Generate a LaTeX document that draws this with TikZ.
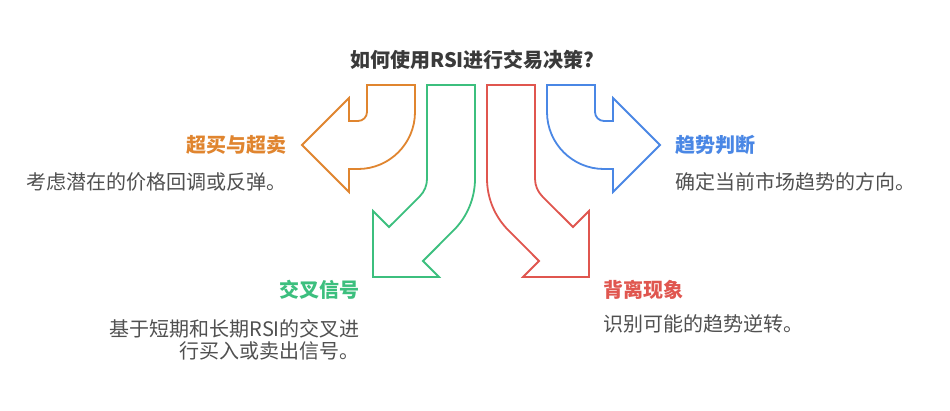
\documentclass[tikz,border=0pt]{standalone}
\usepackage{fontspec}
\setmainfont{Noto Sans CJK SC}
\definecolor{cOr}{HTML}{E0852F}
\definecolor{cGr}{HTML}{3CBF7E}
\definecolor{cRd}{HTML}{E0564F}
\definecolor{cBl}{HTML}{4A87E5}
\definecolor{cTx}{HTML}{505050}
\definecolor{cTi}{HTML}{3A3A3A}
\begin{document}
\begin{tikzpicture}[x=1pt,y=-1pt,
  arrowshape/.style={line width=1.8pt, line join=miter},
  headtxt/.style={font=\bfseries\fontsize{20}{24}\selectfont, inner sep=0pt},
  bodytxt/.style={font=\fontsize{20}{22}\selectfont, text=cTx, inner sep=0pt},
]
\fill[white] (0,0) rectangle (950,410);
\useasboundingbox (0,0) rectangle (950,410);

% orange arrow (left)
\draw[arrowshape, cOr] (367,85) -- (415,85) -- (415,112)
  arc[start angle=0, end angle=90, radius=57] -- (349,169) -- (349,192)
  -- (302,145) -- (349,98) -- (349,121) -- (358,121)
  arc[start angle=90, end angle=0, radius=9] -- cycle;

% blue arrow (right)
\draw[arrowshape, cBl] (547,85) -- (595,85) -- (595,112)
  arc[start angle=180, end angle=90, radius=9] -- (613,121) -- (613,98)
  -- (660,145) -- (613,192) -- (613,169) -- (604,169)
  arc[start angle=90, end angle=180, radius=57] -- cycle;

% green arrow (down-left)
\draw[arrowshape, cGr] (427,85) -- (475,85) -- (475,178.7)
  arc[start angle=0, end angle=45, radius=73] -- (423,261) -- (439,277)
  -- (373,277) -- (373,211) -- (389,227) -- (419.7,196.4)
  arc[start angle=45, end angle=0, radius=25] -- cycle;

% red arrow (down-right)
\draw[arrowshape, cRd] (487,85) -- (535,85) -- (535,178.7)
  arc[start angle=180, end angle=135, radius=25] -- (573,227) -- (589,211)
  -- (589,277) -- (523,277) -- (539,261) -- (508.4,230.3)
  arc[start angle=135, end angle=180, radius=73] -- cycle;

\node[headtxt, text=cTi, anchor=base] (title) at (472.5,67) {如何使用RSI进行交易决策?};
\node[headtxt, text=cOr, anchor=base east] (h1) at (287,152.5) {超买与超卖};
\node[bodytxt, anchor=base east] (d1) at (287,189) {考虑潜在的价格回调或反弹。};
\node[headtxt, text=cBl, anchor=base west] (h2) at (675,152.5) {趋势判断};
\node[bodytxt, anchor=base west] (d2) at (675,189) {确定当前市场趋势的方向。};
\node[headtxt, text=cGr, anchor=base east] (h3) at (360,297.5) {交叉信号};
\node[bodytxt, anchor=base east, align=right] (d3) at (360,358.5) {基于短期和长期RSI的交叉进\\行买入或卖出信号。};
\node[headtxt, text=cRd, anchor=base west] (h4) at (603,297.5) {背离现象};
\node[bodytxt, anchor=base west] (d4) at (603,331.5) {识别可能的趋势逆转。};
\end{tikzpicture}
\end{document}
